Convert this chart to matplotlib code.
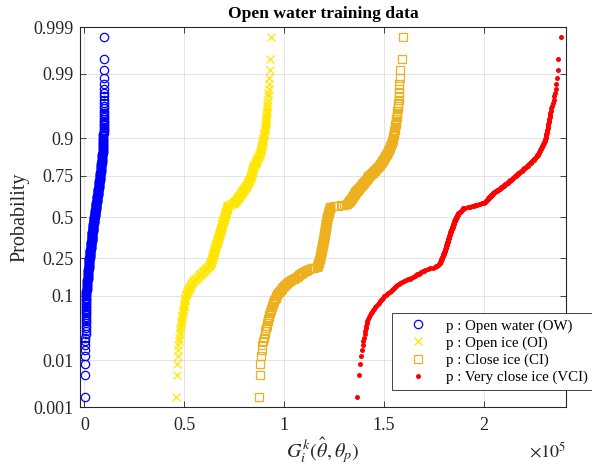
import numpy as np
import matplotlib
matplotlib.use('Agg')
import matplotlib.pyplot as plt
from matplotlib.ticker import FuncFormatter
from statistics import NormalDist

plt.rcParams['font.family'] = 'serif'
plt.rcParams['font.serif'] = ['Liberation Serif', 'DejaVu Serif']
plt.rcParams['mathtext.fontset'] = 'stix'

# sorted training samples of G (units of 1e3)
ow = [0.25, 0.25, 0.28, 0.35, 0.39, 0.42, 0.46, 0.50, 0.53, 0.55,
      0.58, 0.60, 0.61, 0.61, 0.62, 0.62, 0.63, 0.64, 0.64, 0.65,
      0.66, 0.67, 0.68, 0.69, 0.70, 0.71, 0.72, 0.73, 0.74, 0.75,
      0.80, 0.84, 0.89, 0.93, 0.98, 1.02, 1.07, 1.11, 1.16, 1.20,
      1.25, 1.29, 1.34, 1.38, 1.43, 1.47, 1.52, 1.56, 1.61, 1.65,
      1.68, 1.72, 1.75, 1.78, 1.81, 1.85, 1.88, 1.91, 1.94, 1.98,
      2.01, 2.04, 2.07, 2.11, 2.14, 2.17, 2.21, 2.24, 2.27, 2.30,
      2.34, 2.37, 2.40, 2.43, 2.47, 2.50,
      2.54, 2.57, 2.61, 2.64, 2.68, 2.72, 2.75, 2.79, 2.82, 2.86,
      2.90, 2.93, 2.97, 3.00, 3.04, 3.08, 3.11, 3.15, 3.18, 3.22,
      3.26, 3.29, 3.33, 3.36, 3.40,
      3.43, 3.46, 3.49, 3.52, 3.55, 3.57, 3.60, 3.63, 3.66, 3.69,
      3.72, 3.75, 3.78, 3.81, 3.84, 3.86, 3.89, 3.92, 3.95, 3.98,
      4.01, 4.04, 4.07, 4.10, 4.13, 4.15, 4.18, 4.21, 4.24, 4.27, 4.30,
      4.34, 4.37, 4.41, 4.45, 4.48, 4.52, 4.56, 4.59, 4.63, 4.67,
      4.71, 4.74, 4.78, 4.82, 4.85, 4.89, 4.93, 4.96, 5.00,
      5.04, 5.08, 5.11, 5.15, 5.19, 5.23, 5.26, 5.30, 5.34, 5.38,
      5.41, 5.45, 5.49, 5.53, 5.56, 5.60, 5.64, 5.68, 5.71, 5.75,
      5.79, 5.83, 5.86, 5.90, 5.94, 5.98, 6.01, 6.05, 6.09, 6.13, 6.16, 6.20,
      6.24, 6.28, 6.31, 6.35, 6.39, 6.43, 6.47, 6.50, 6.54, 6.58,
      6.62, 6.66, 6.69, 6.73, 6.77, 6.81, 6.85, 6.88, 6.92, 6.96,
      7.00, 7.04, 7.07, 7.11, 7.15, 7.19, 7.23, 7.26, 7.30, 7.34,
      7.38, 7.42, 7.45, 7.49, 7.53, 7.57, 7.61, 7.64, 7.68, 7.72, 7.76, 7.80,
      7.84, 7.88, 7.92, 7.96, 8.00, 8.04, 8.08, 8.12, 8.16, 8.20,
      8.24, 8.28, 8.32, 8.36, 8.40, 8.44, 8.48, 8.52, 8.56, 8.60,
      8.64, 8.68, 8.72, 8.76, 8.80, 8.84, 8.88, 8.92, 8.96, 9.00,
      9.03, 9.05, 9.08, 9.11, 9.13, 9.16, 9.19, 9.21, 9.24, 9.27,
      9.29, 9.32, 9.35, 9.37, 9.40,
      9.43, 9.46, 9.49, 9.52, 9.55, 9.58, 9.62, 9.65, 9.68, 9.71, 9.74, 9.77, 9.80,
      9.81, 9.82, 9.83, 9.84, 9.85, 9.86, 9.87, 9.88, 9.89, 9.90,
      9.90, 9.91, 9.91, 9.92, 9.92, 9.93, 9.94]

oi = [45.9, 46.2, 46.3, 46.7, 46.85, 47.0, 47.25, 47.5, 47.7, 47.85,
      48.0, 48.2, 48.4, 48.55, 48.7, 48.85, 49.0, 49.2, 49.35, 49.5,
      49.6, 49.75, 49.9, 50.0, 50.1, 50.25, 50.35, 50.5, 50.6, 50.7,
      50.9, 51.1, 51.4, 51.6, 51.8, 52.0,
      52.2, 52.5, 52.7, 53.0, 53.2, 53.5, 53.7,
      54.2, 54.6, 55.1, 55.6, 56.1, 56.5, 57.0,
      57.4, 57.8, 58.1, 58.5, 58.9, 59.3, 59.6, 60.0, 60.4,
      60.8, 61.1, 61.5, 61.8, 62.2, 62.5, 62.9,
      63.0, 63.1, 63.2, 63.35, 63.45, 63.6, 63.7,
      63.8, 63.9, 63.95, 64.05, 64.15, 64.25, 64.3, 64.4, 64.5, 64.6,
      64.7, 64.75, 64.85, 64.95, 65.05, 65.1, 65.2, 65.3, 65.4, 65.5,
      65.6, 65.65, 65.75, 65.85, 65.95, 66.0, 66.1, 66.2,
      66.3, 66.35, 66.45, 66.5, 66.6, 66.7, 66.8, 66.85, 66.95, 67.0,
      67.1, 67.2, 67.3, 67.35, 67.45, 67.5, 67.6, 67.7, 67.8, 67.85,
      67.95, 68.0, 68.1, 68.2, 68.25, 68.35, 68.4, 68.5, 68.55, 68.65, 68.7,
      68.8, 68.85, 68.95, 69.0, 69.1, 69.15, 69.25, 69.3, 69.4, 69.5,
      69.55, 69.65, 69.7, 69.8, 69.85, 69.95, 70.0, 70.1,
      70.2, 70.25, 70.35, 70.4, 70.5, 70.6, 70.65, 70.75, 70.8, 70.9,
      70.95, 71.05, 71.1, 71.2,
      71.3, 71.4, 71.45, 71.5, 71.6, 71.65, 71.7, 71.8, 71.9,
      72.7, 73.4, 74.1, 74.6, 74.9, 75.1, 75.3, 75.5, 75.8, 76.0,
      76.2, 76.4, 76.6, 76.8, 77.0, 77.2, 77.4, 77.6, 77.8, 78.0,
      78.2, 78.35, 78.55, 78.75, 78.95, 79.15, 79.35, 79.55, 79.75, 79.9,
      80.1, 80.3, 80.5, 80.7, 80.9, 81.1, 81.3,
      81.45, 81.6, 81.75, 81.9, 82.05, 82.2, 82.3, 82.45, 82.6, 82.75,
      82.9, 83.05, 83.2, 83.35, 83.5,
      83.6, 83.65, 83.75, 83.8, 83.9, 84.0, 84.05, 84.15, 84.2, 84.3,
      84.35, 84.45, 84.5,
      84.7, 84.9, 85.1, 85.3, 85.5, 85.7, 85.9, 86.1, 86.3, 86.45,
      86.65, 86.85, 87.05, 87.25, 87.4, 87.6, 87.8, 88.0,
      88.1, 88.25, 88.35, 88.45, 88.55, 88.7, 88.8, 88.9, 89.05, 89.15,
      89.25, 89.35, 89.5, 89.6,
      89.7, 89.8, 89.9, 90.05, 90.15, 90.25, 90.35, 90.45, 90.55, 90.65,
      90.8, 90.9, 91.0,
      91.05, 91.15, 91.2, 91.3, 91.35, 91.4, 91.5, 91.6,
      91.8, 92.0, 92.15, 92.35, 92.5, 92.7,
      92.9, 93.1, 93.5]

ci = [87.5, 87.8, 88.0, 88.5, 88.8, 89.0, 89.3, 90.0, 90.3, 90.6,
      91.0, 91.3, 91.6, 91.9, 92.1, 92.4, 92.7, 93.0, 93.2, 93.4,
      93.7, 93.9, 94.2, 94.4, 94.6, 94.9, 95.2, 95.5, 95.8, 96.1,
      96.4, 96.7, 97.0, 97.4, 97.9, 98.3, 98.8, 99.2, 99.6, 100.1,
      100.5, 101.0, 101.4, 102.1, 102.8, 103.6, 104.3, 105.0, 105.7, 106.4,
      107.0, 107.5, 108.1, 108.6, 109.2, 109.7, 110.3, 110.8, 111.4,
      112.6, 113.9, 115.1, 116.4, 116.6, 116.8, 117.0,
      117.1, 117.2, 117.3, 117.4, 117.5, 117.6, 117.7, 117.8, 117.9, 118.0,
      118.05, 118.1, 118.2, 118.25, 118.3, 118.35, 118.4, 118.45, 118.5, 118.6,
      118.65, 118.7, 118.75, 118.8, 118.85, 118.95, 119.0, 119.05, 119.1, 119.15,
      119.2, 119.3, 119.35, 119.4, 119.45, 119.5, 119.55, 119.6, 119.7, 119.75,
      119.8,
      119.85, 119.9, 119.95, 119.95, 120.0, 120.05, 120.1, 120.15, 120.2, 120.25,
      120.3, 120.3, 120.35, 120.4, 120.45, 120.5, 120.55, 120.6, 120.6, 120.65,
      120.7, 120.75, 120.8, 120.85, 120.9, 120.9, 120.95, 121.0, 121.05, 121.1,
      121.15, 121.2, 121.2, 121.25, 121.3, 121.35, 121.4, 121.45, 121.5, 121.5,
      121.55, 121.6, 121.7,
      121.75, 121.8, 121.9, 121.95, 122.0, 122.1, 122.15, 122.25, 122.3, 122.4,
      122.45, 122.5, 122.6, 122.65, 122.75, 122.8, 122.9, 122.95, 123.0, 123.1,
      125.0, 126.8, 128.5, 130.0, 131.5,
      131.7, 131.9, 132.2, 132.4, 132.6, 132.8, 133.0, 133.2, 133.4, 133.6,
      133.9, 134.1, 134.3, 134.5,
      134.7, 134.8, 135.0, 135.1, 135.3, 135.4, 135.6,
      135.8, 136.1, 136.3, 136.5, 136.7, 137.0, 137.2, 137.4, 137.6, 137.9, 138.1,
      138.4, 138.6, 138.9, 139.2, 139.5, 139.7, 140.0, 140.3, 140.6, 140.8, 141.1,
      141.3, 141.5, 141.7, 141.9, 142.1, 142.3,
      142.6, 143.0, 143.3, 143.7, 144.0, 144.4, 144.7, 145.0, 145.4, 145.7,
      146.1, 146.4, 146.8, 147.1,
      147.4, 147.6, 147.9, 148.1, 148.4, 148.7, 148.9, 149.2, 149.5, 149.7,
      150.0, 150.2, 150.5, 150.8, 151.0, 151.3, 151.5, 151.8, 152.1, 152.3, 152.6,
      152.8, 153.0, 153.1, 153.3, 153.5, 153.7, 153.9, 154.1, 154.2, 154.4, 154.6,
      154.7, 154.8, 154.9, 155.1, 155.2, 155.3, 155.4, 155.5, 155.6, 155.8,
      155.9, 156.0, 156.1,
      156.25, 156.4, 156.55, 156.7, 156.85, 157.0, 157.15, 157.3,
      157.4, 157.5, 157.65, 157.75, 157.85, 158.0, 158.1,
      158.9, 159.6]

vci = [136.6, 137.6, 138.1, 138.6, 139.1, 139.4, 139.8, 140.1, 140.4, 140.7,
       141.0, 141.2, 141.5, 141.8, 142.1, 142.6, 143.1, 143.6, 144.1, 144.6,
       145.1, 145.7, 146.3, 146.9, 147.5, 148.0, 148.5, 148.9,
       149.6, 150.3, 150.9, 151.6, 152.3,
       152.9, 153.4, 153.9, 154.5, 155.0, 155.6,
       156.2, 156.8, 157.5, 158.1,
       159.1, 160.0, 161.0, 161.9, 162.9, 163.8, 164.8,
       165.5, 166.1, 166.8, 167.4, 168.1, 168.7, 169.4, 170.0, 170.7,
       172.0, 173.2, 174.5, 175.7,
       176.2, 176.7, 177.2, 177.7, 178.2,
       178.3, 178.4, 178.55, 178.7, 178.8, 178.9, 179.05, 179.15, 179.3, 179.4,
       179.5, 179.65, 179.75, 179.9, 180.0, 180.1, 180.25, 180.35, 180.5, 180.6,
       180.7,
       180.8, 180.85, 180.95, 181.05, 181.1, 181.2, 181.3, 181.35, 181.45, 181.55,
       181.6, 181.7, 181.8, 181.85, 181.95, 182.05, 182.1, 182.2, 182.3, 182.35,
       182.45, 182.55, 182.6, 182.7, 182.8, 182.85, 182.95, 183.05, 183.1, 183.2,
       183.3, 183.4, 183.5, 183.6, 183.7, 183.8, 183.85, 183.95, 184.05, 184.15,
       184.25, 184.35, 184.45, 184.55, 184.65, 184.75, 184.85, 184.95, 185.05, 185.1,
       185.2, 185.3, 185.4, 185.5, 185.6, 185.7,
       185.85, 186.0, 186.1, 186.25, 186.35, 186.5, 186.6, 186.75, 186.9, 187.0,
       187.15, 187.25, 187.4,
       187.7, 188.0, 188.2, 188.5, 188.8, 189.1, 189.3, 189.6, 189.9,
       190.9, 192.0, 193.2, 194.1, 195.0, 195.9, 196.8, 197.7, 198.4, 199.0,
       200.4, 200.6, 200.8,
       201.1, 201.3, 201.6, 201.8, 202.1, 202.3, 202.6, 202.9, 203.1, 203.4,
       203.6, 203.9, 204.1, 204.4, 204.6, 204.9,
       205.3, 205.7, 206.1, 206.5, 206.9, 207.3, 207.7, 208.1, 208.5, 208.8,
       209.2, 209.6, 210.0, 210.4, 210.8, 211.2, 211.6,
       212.0, 212.3, 212.7, 213.1, 213.4, 213.8, 214.1, 214.5, 214.9, 215.2,
       215.6, 216.0, 216.3, 216.7, 217.0, 217.4,
       217.8, 218.3, 218.7, 219.1, 219.6, 220.0, 220.4, 220.8, 221.3, 221.7,
       222.1, 222.5, 222.9, 223.2, 223.6, 224.0, 224.4, 224.8, 225.2, 225.5,
       225.9, 226.3, 226.7,
       226.9, 227.2, 227.4, 227.6, 227.8, 228.1, 228.3,
       228.55, 228.8, 229.05, 229.3, 229.55, 229.8, 230.05, 230.3, 230.55, 230.8,
       230.95, 231.1, 231.2, 231.35, 231.5, 231.65, 231.8, 231.9, 232.05, 232.2,
       232.35, 232.5,
       232.65, 232.8, 232.9, 233.05, 233.2, 233.3,
       233.7, 234.0, 234.4, 234.8, 235.1, 235.5,
       235.9, 236.3, 236.5, 236.7,
       237.3, 237.5, 238.7]

labels = ['p : Open water (OW)', 'p : Open ice (OI)',
          'p : Close ice (CI)', 'p : Very close ice (VCI)']
prob_ticks = [0.001, 0.01, 0.1, 0.25, 0.5, 0.75, 0.9, 0.99, 0.999]
prob_labels = ['0.001', '0.01', '0.1', '0.25', '0.5', '0.75', '0.9', '0.99', '0.999']
x_ticks = [0, 0.5e5, 1e5, 1.5e5, 2e5]

gray = (0.15, 0.15, 0.15)
nd = NormalDist()


def plot_pos(n):
    # normal probability plot positions, (i - 0.5) / n
    return [nd.inv_cdf((i - 0.5) / n) for i in range(1, n + 1)]


styles = [
    dict(marker='o', ms=6, mfc='none', mec='#0000ff', mew=0.9),
    dict(marker='x', ms=6, mec='#ffe600', mew=0.9),
    dict(marker='s', ms=6, mfc='none', mec='#edb120', mew=0.9),
    dict(marker='o', ms=3.6, mfc='#ff0000', mec='#ff0000', mew=0),
]

fig = plt.figure(figsize=(5.92, 4.67), dpi=100)
ax = fig.add_axes([80 / 592, 1 - 407 / 467, 486 / 592, 380 / 467])

for vals, lab, st in zip([ow, oi, ci, vci], labels, styles):
    x = np.sort(np.asarray(vals) * 1000)
    ax.plot(x, plot_pos(len(x)), linestyle='none', label=lab, **st)

ax.set_xlim(-2250, 241300)
ax.set_ylim(nd.inv_cdf(0.001), nd.inv_cdf(0.999))
ax.set_yticks([nd.inv_cdf(p) for p in prob_ticks])
ax.set_yticklabels(prob_labels)
ax.set_xticks(x_ticks)
ax.xaxis.set_major_formatter(FuncFormatter(lambda v, pos: f'{v / 1e5:g}'))

ax.set_axisbelow(True)
ax.grid(True, color='#dedede', linewidth=0.6)
ax.tick_params(direction='in', top=True, right=True, length=4, width=0.6,
               colors=gray, labelsize=13)
ax.tick_params(axis='x', pad=7.5)
ax.tick_params(axis='y', pad=4.5)
for sp in ax.spines.values():
    sp.set_color(gray)
    sp.set_linewidth(0.8)

ax.set_title('Open water training data', fontsize=12.6, fontweight='bold', pad=6.5)
ax.set_ylabel('Probability', fontsize=14.5, color=gray)
ax.yaxis.set_label_coords(-0.105, 0.5)
ax.set_xlabel(r'$G_i^k(\hat{\theta},\theta_p)$', fontsize=14.5, color=gray)
ax.xaxis.set_label_coords(0.5, -0.075)
ax.text(1.0, -0.118, r'$\times10^{5}$', transform=ax.transAxes, ha='right',
        va='center', fontsize=13, color=gray)

leg = ax.legend(loc='upper left', bbox_to_anchor=(392 / 592, 1 - 313 / 467),
                bbox_transform=fig.transFigure, fontsize=10.7, fancybox=False,
                framealpha=1, edgecolor=gray, borderpad=0.4, handlelength=2.7,
                handletextpad=0.5, labelspacing=0.25, borderaxespad=0)
leg.get_frame().set_linewidth(0.6)

fig.savefig('out.png', dpi=100)
